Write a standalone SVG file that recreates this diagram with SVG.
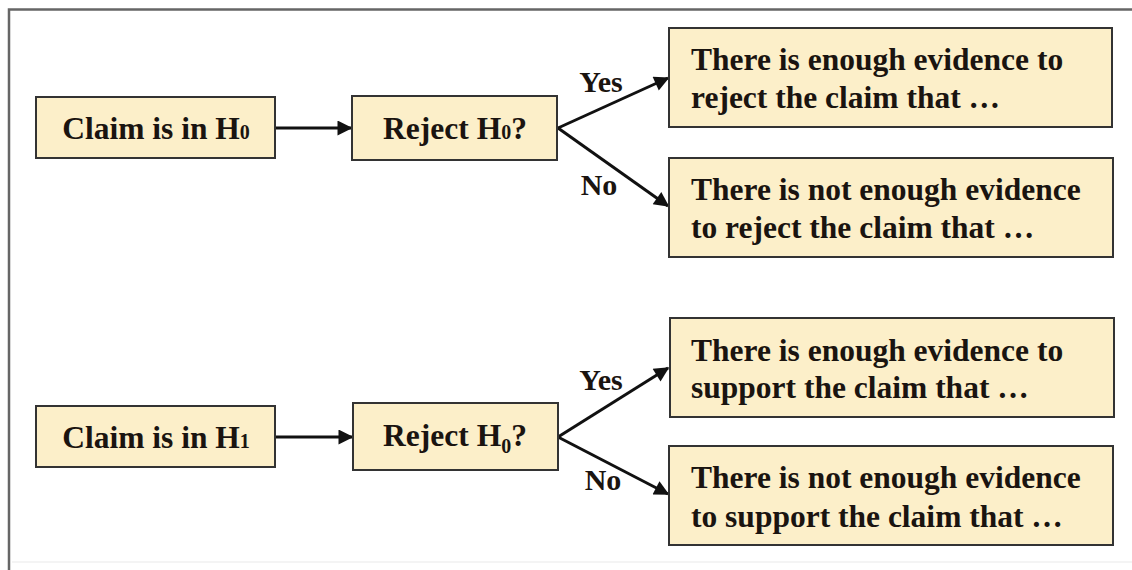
<svg xmlns="http://www.w3.org/2000/svg" width="1132" height="570" viewBox="0 0 1132 570">
<style>
.box{fill:#fcefc9;stroke:#333;stroke-width:2}
.t{font-family:"Liberation Serif","Times New Roman",serif;font-weight:bold;font-size:31.5px;fill:#1a1410}
.lbl{font-family:"Liberation Serif","Times New Roman",serif;font-weight:bold;font-size:30px;fill:#1a1410}
.sub{font-size:20px}
.c{stroke:#111;stroke-width:3;fill:none;marker-end:url(#ah)}
</style>
<defs>
<marker id="ah" viewBox="0 0 10 10" refX="9" refY="5" markerWidth="5.5" markerHeight="5" orient="auto" markerUnits="strokeWidth">
<path d="M0,0 L10,5 L0,10 z" fill="#111"/>
</marker>
</defs>
<rect width="1132" height="570" fill="#fff"/>
<g id="frame">
<path d="M9,570 V9.5 H1132" fill="none" stroke="#666" stroke-width="2.5"/>
<line x1="12" y1="562" x2="1132" y2="562" stroke="#f0f0f0" stroke-width="1.5"/>
</g>
<g id="connectors">
<line class="c" x1="275" y1="128" x2="351" y2="128"/>
<line class="c" x1="558" y1="128" x2="668" y2="78"/>
<line class="c" x1="558" y1="128" x2="668" y2="206"/>
<line class="c" x1="275" y1="437" x2="352" y2="437"/>
<line class="c" x1="558" y1="437" x2="668" y2="368"/>
<line class="c" x1="558" y1="437" x2="668" y2="494"/>
<text class="lbl" x="601" y="92" text-anchor="middle">Yes</text>
<text class="lbl" x="599" y="195" text-anchor="middle">No</text>
<text class="lbl" x="601" y="390" text-anchor="middle">Yes</text>
<text class="lbl" x="603" y="490" text-anchor="middle">No</text>
</g>
<g id="claim-h0">
<rect class="box" x="36" y="97" width="239" height="61"/>
<text class="t" x="156" y="139" text-anchor="middle">Claim is in H<tspan class="sub">0</tspan></text>
</g>
<g id="reject-1">
<rect class="box" x="352" y="96" width="205" height="64"/>
<text class="t" x="455" y="139" text-anchor="middle">Reject H<tspan class="sub">0</tspan>?</text>
</g>
<g id="yes-1">
<rect class="box" x="669" y="28" width="443" height="99"/>
<text class="t" x="691" y="70">There is enough evidence to</text>
<text class="t" x="691" y="108">reject the claim that …</text>
</g>
<g id="no-1">
<rect class="box" x="669" y="158" width="444" height="99"/>
<text class="t" x="691" y="200">There is not enough evidence</text>
<text class="t" x="691" y="238">to reject the claim that …</text>
</g>
<g id="claim-h1">
<rect class="box" x="36" y="406" width="239" height="61"/>
<text class="t" x="156" y="448" text-anchor="middle">Claim is in H<tspan class="sub">1</tspan></text>
</g>
<g id="reject-2">
<rect class="box" x="353" y="403" width="205" height="67"/>
<text class="t" x="455" y="446" text-anchor="middle">Reject H<tspan class="sub" dy="7">0</tspan><tspan dy="-7">?</tspan></text>
</g>
<g id="yes-2">
<rect class="box" x="670" y="318" width="444" height="99"/>
<text class="t" x="691" y="361">There is enough evidence to</text>
<text class="t" x="691" y="398">support the claim that …</text>
</g>
<g id="no-2">
<rect class="box" x="669" y="446" width="444" height="99"/>
<text class="t" x="691" y="488">There is not enough evidence</text>
<text class="t" x="691" y="527">to support the claim that …</text>
</g>
</svg>
